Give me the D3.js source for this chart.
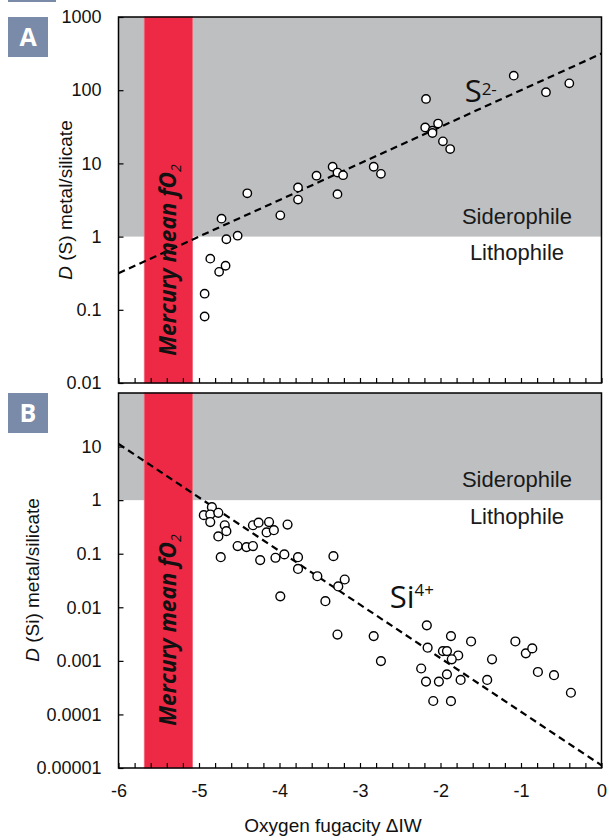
<!DOCTYPE html>
<html>
<head>
<meta charset="utf-8">
<script src="https://cdn.jsdelivr.net/npm/d3@7"></script>
<style>
    body { margin: 0; background: #fff; }
    .tick text { font-family: "Liberation Sans", Arial, sans-serif; font-size: 18px; fill: #111; }
</style>
</head>
<body>
<div id="chart"></div>
<script>
// Oxygen fugacity (delta IW) and partition coefficients

// Panel A - sulfur
const sulfurIW = [-4.40, -3.77, -3.77, -3.54, -3.34, -3.28, -3.21, -3.28, -2.83, -2.74,
    -2.18, -2.19, -2.10, -2.10, -2.03, -1.97, -1.88, -1.09, -0.69, -0.40,
    -3.99, -4.72, -4.66, -4.52, -4.86, -4.75, -4.67, -4.93, -4.93];
const sulfurD = [3.9, 4.7, 3.2, 6.8, 9.0, 7.5, 6.9, 3.8, 9.0, 7.2,
    76, 31, 28, 26, 35, 20, 15.7, 158, 94, 124,
    1.95, 1.76, 0.92, 1.03, 0.50, 0.33, 0.40, 0.166, 0.081];

// Panel B - silicon
const siliconIW = [-4.84, -4.94, -4.86, -4.76, -4.86, -4.68, -4.66, -4.76, -4.73, -4.52,
    -4.41, -4.33, -4.33, -4.26, -4.13, -4.16, -4.07, -3.90, -4.24, -4.05,
    -3.94, -3.77, -3.77, -3.33, -3.53, -3.19, -3.27, -3.99, -3.43, -3.28,
    -2.83, -2.74, -2.17, -2.16, -1.87, -1.62, -1.97, -1.92, -1.78, -1.86,
    -1.36, -1.07, -0.94, -0.86, -0.79, -0.59, -0.38, -2.24, -1.92, -2.18,
    -2.02, -1.75, -1.42, -2.09, -1.87];
const siliconD = [0.74, 0.525, 0.54, 0.58, 0.39, 0.34, 0.264, 0.21, 0.086, 0.139,
    0.133, 0.139, 0.34, 0.38, 0.39, 0.25, 0.275, 0.35, 0.076, 0.084,
    0.097, 0.086, 0.052, 0.090, 0.038, 0.033, 0.0245, 0.016, 0.013, 0.0031,
    0.0029, 0.00099, 0.0046, 0.00176, 0.0029, 0.0023, 0.00152, 0.00152, 0.00126, 0.00107,
    0.00107, 0.0023, 0.00138, 0.00171, 0.00062, 0.00054, 0.000254, 0.00072, 0.00056, 0.00041,
    0.00041, 0.00044, 0.00044, 0.000178, 0.000177];

// Dashed fits: log10 D = intercept + slope * dIW
const sulfurFit = [2.5, 0.5];
const siliconFit = [-4.95, -1.0];

// Mercury mean fO2 range
const mercuryRange = [-5.68, -5.08];

// Axis ticks
const xDomain = [-6, 0];
const xLabels = [-6, -5, -4, -3, -2, -1, 0];
const yTicksA = [1000, 100, 10, 1, 0.1, 0.01];
const yLabelsA = ["1000", "100", "10", "1", "0.1", "0.01"];
const yTicksB = [10, 1, 0.1, 0.01, 0.001, 0.0001, 0.00001];
const yLabelsB = ["10", "1", "0.1", "0.01", "0.001", "0.0001", "0.00001"];

const sans = "'Liberation Sans', Arial, sans-serif";
const myriad = "'Open Sans', sans-serif";


class LogPanel {
    constructor(svg, opts) {
        this.svg = svg;
        this.opts = opts;
        this.initVis();
    }

    initVis() {
        let vis = this;
        let o = vis.opts;

        vis.x = d3.scaleLinear().domain(xDomain).range([118.5, 601.5]);
        vis.y = d3.scaleLog().domain(o.yDomain).range([o.bottom, o.top]);

        vis.g = vis.svg.append("g");

        // Siderophile field (D > 1)
        vis.g.append("rect")
            .attr("x", vis.x(xDomain[0]))
            .attr("y", vis.y(o.yDomain[1]))
            .attr("width", vis.x(xDomain[1]) - vis.x(xDomain[0]))
            .attr("height", vis.y(1) - vis.y(o.yDomain[1]))
            .attr("fill", "#bebfc1");

        // Mercury band
        vis.g.append("rect")
            .attr("x", vis.x(mercuryRange[0]))
            .attr("y", o.top)
            .attr("width", vis.x(mercuryRange[1]) - vis.x(mercuryRange[0]))
            .attr("height", o.bottom - o.top)
            .attr("fill", "#ed2946")
            .attr("stroke", "#f26a7c")
            .attr("stroke-width", 0.8);

        // Field labels
        vis.g.append("text")
            .attr("x", vis.x(-1.05))
            .attr("y", vis.y(1) - 13)
            .attr("text-anchor", "middle")
            .style("font-family", sans)
            .style("font-size", "22px")
            .attr("fill", "#1a1a1a")
            .text("Siderophile");
        vis.g.append("text")
            .attr("x", vis.x(-1.05))
            .attr("y", vis.y(1) + 23.5)
            .attr("text-anchor", "middle")
            .style("font-family", sans)
            .style("font-size", "22px")
            .attr("fill", "#1a1a1a")
            .text("Lithophile");

        // Regression line
        let fit = o.fit;
        let lineData = xDomain.map(d => [d, Math.pow(10, fit[0] + fit[1] * d)]);
        vis.g.append("path")
            .datum(lineData)
            .attr("d", d3.line().x(d => vis.x(d[0])).y(d => vis.y(d[1])))
            .attr("fill", "none")
            .attr("stroke", "#000")
            .attr("stroke-width", 2.2)
            .attr("stroke-dasharray", "7,4.5");

        // Mercury label
        let mt = vis.g.append("text")
            .attr("transform", `translate(${vis.x(-5.38) + 8}, ${o.mercuryY}) rotate(-90)`)
            .attr("text-anchor", "middle")
            .style("font-family", myriad)
            .style("font-size", "22.5px")
            .style("font-weight", "bold")
            .style("font-style", "italic")
            .attr("fill", "#111");
        mt.append("tspan").text("Mercury mean fO");
        mt.append("tspan").attr("dy", 5).style("font-size", "14px").style("font-weight", "normal").text("2");

        // Ion label
        let it = vis.g.append("text")
            .attr("x", vis.x(o.ion.x))
            .attr("y", vis.y(o.ion.y))
            .style("font-family", myriad)
            .style("font-size", "31px")
            .attr("fill", "#111");
        it.append("tspan").text(o.ion.base);
        it.append("tspan").attr("dy", o.ion.dy).style("font-size", "17px").text(o.ion.sup);

        // Points
        vis.g.selectAll(".pt")
            .data(o.iw.map((d, i) => [d, o.dv[i]]))
            .enter()
            .append("circle")
            .attr("class", "pt")
            .attr("cx", d => vis.x(d[0]))
            .attr("cy", d => vis.y(d[1]))
            .attr("r", o.r)
            .attr("fill", "#fff")
            .attr("stroke", "#000")
            .attr("stroke-width", 1.4);

        // Y axis (inward ticks)
        let yAxis = d3.axisLeft(vis.y)
            .tickValues(o.yTicks)
            .tickSize(-5)
            .tickPadding(17)
            .tickFormat((d, i) => o.yLabels[i]);
        let yg = vis.g.append("g")
            .attr("transform", `translate(${vis.x(xDomain[0])}, 0)`)
            .call(yAxis);
        yg.select(".domain").remove();
        yg.selectAll("line").attr("stroke", "#000").attr("stroke-width", 1.2);

        // X axis (inward ticks every 0.2)
        let xt = d3.range(0, 31).map(i => Math.round((-6 + i * 0.2) * 10) / 10);
        let xAxis = d3.axisBottom(vis.x)
            .tickValues(xt)
            .tickSize(-5)
            .tickPadding(16)
            .tickFormat(d => (o.showX && xLabels.includes(d)) ? String(d) : "");
        let xg = vis.g.append("g")
            .attr("transform", `translate(0, ${o.bottom})`)
            .call(xAxis);
        xg.select(".domain").remove();
        xg.selectAll("line").attr("stroke", "#000").attr("stroke-width", 1.2);

        // Y title
        let yt = vis.g.append("text")
            .attr("transform", `translate(${o.titleX}, ${o.titleY}) rotate(-90)`)
            .attr("text-anchor", "middle")
            .style("font-family", sans)
            .style("font-size", "19px")
            .attr("fill", "#111");
        yt.append("tspan").style("font-style", "italic").text("D");
        yt.append("tspan").text(" " + o.element + " metal/silicate");

        // Frame
        vis.g.append("rect")
            .attr("x", vis.x(xDomain[0]))
            .attr("y", o.top)
            .attr("width", vis.x(xDomain[1]) - vis.x(xDomain[0]))
            .attr("height", o.bottom - o.top)
            .attr("fill", "none")
            .attr("stroke", "#000")
            .attr("stroke-width", 1.5);

        // Panel badge
        vis.svg.append("rect")
            .attr("x", 8).attr("y", o.top)
            .attr("width", 40).attr("height", 40)
            .attr("fill", "#7a8ba9");
        vis.svg.append("text")
            .attr("x", 28).attr("y", o.top + 29)
            .attr("text-anchor", "middle")
            .style("font-family", myriad)
            .style("font-size", "25px")
            .style("font-weight", "bold")
            .attr("fill", "#fff")
            .text(o.badge);
    }
}

let svg = d3.select("#chart").append("svg")
    .attr("width", 607)
    .attr("height", 838);

// sliver of the badge above, cut by the crop
svg.append("rect").attr("x", 8).attr("y", 0).attr("width", 48).attr("height", 2).attr("fill", "#7a8ba9");

new LogPanel(svg, {
    top: 17, bottom: 383, yDomain: [0.01, 1000],
    iw: sulfurIW, dv: sulfurD, fit: sulfurFit, r: 4.2,
    yTicks: yTicksA, yLabels: yLabelsA, showX: false,
    element: "(S)", titleX: 72, titleY: 200, mercuryY: 260, badge: "A",
    ion: {x: -1.70, y: 70, base: "S", sup: "2-", dy: -7}
});

new LogPanel(svg, {
    top: 393, bottom: 768, yDomain: [0.00001, 100],
    iw: siliconIW, dv: siliconD, fit: siliconFit, r: 4.4,
    yTicks: yTicksB, yLabels: yLabelsB, showX: true,
    element: "(Si)", titleX: 39, titleY: 580, mercuryY: 630, badge: "B",
    ion: {x: -2.63, y: 0.0098, base: "Si", sup: "4+", dy: -11.5}
});

// X title
svg.append("text")
    .attr("x", 333)
    .attr("y", 832)
    .attr("text-anchor", "middle")
    .style("font-family", sans)
    .style("font-size", "19px")
    .attr("fill", "#111")
    .text("Oxygen fugacity \u0394IW");
</script>
</body>
</html>
